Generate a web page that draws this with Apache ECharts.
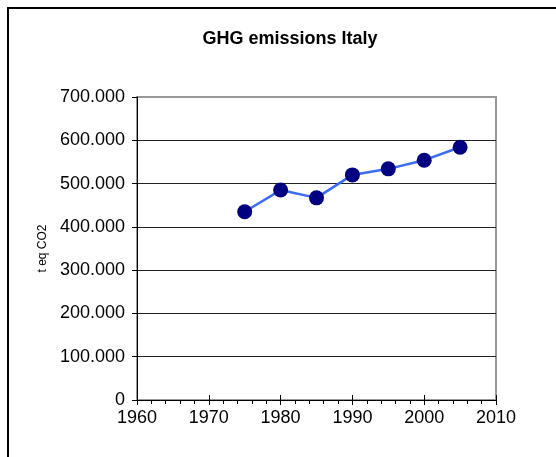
<!DOCTYPE html>
<html>
<head>
<meta charset="utf-8">
<script src="https://cdn.jsdelivr.net/npm/echarts@6/dist/echarts.min.js"></script>
<style>
  html, body { margin: 0; padding: 0; background: #fff; }
  #chart { width: 556px; height: 457px; }
</style>
</head>
<body>
<div id="chart"></div>
<script>
// emissions in t eq CO2
const years = [1975, 1980, 1985, 1990, 1995, 2000, 2005]
const emissions = [435000, 485000, 467000, 520000, 534000, 554000, 584000]

const chart = echarts.init(document.getElementById('chart'))

// Italian style thousands separator: 700000 -> 700.000
function fmt(v) {
  return String(v).replace(/\B(?=(\d{3})+(?!\d))/g, '.')
}

const font = 'Arial, "Liberation Sans", sans-serif'

const option = {
  backgroundColor: '#fff',
  animation: false,
  title: {
    text: 'GHG emissions Italy',
    left: 285,
    textAlign: 'center',
    top: 25,
    textStyle: { fontFamily: font, fontSize: 18, fontWeight: 'bold', color: '#000' }
  },
  graphic: [
    {
      // chart frame, only left and top edges are in view
      type: 'polyline',
      shape: { points: [[8, 460], [8, 8], [560, 8]] },
      style: { stroke: '#000', lineWidth: 2, fill: null },
      silent: true
    }
  ],
  grid: {
    left: 137,
    right: 60,
    top: 97,
    bottom: 57,
    show: true,
    borderColor: '#999',
    borderWidth: 2,
    backgroundColor: 'transparent'
  },
  xAxis: [
    {
      type: 'value',
      min: 1960,
      max: 2010,
      interval: 10,
      axisLine: { onZero: false, lineStyle: { color: '#000', width: 1 } },
      axisTick: { show: true, length: 5, lineStyle: { color: '#000' } },
      minorTick: { show: true, splitNumber: 5, length: 4, lineStyle: { color: '#000' } },
      axisLabel: { color: '#000', fontFamily: font, fontSize: 18, margin: 9, formatter: v => String(v) },
      splitLine: { show: false }
    },
    {
      // upper half of the major ticks
      type: 'value',
      position: 'bottom',
      min: 1960,
      max: 2010,
      interval: 10,
      axisLine: { show: false },
      axisTick: { show: true, inside: true, length: 5, lineStyle: { color: '#000' } },
      axisLabel: { show: false },
      splitLine: { show: false }
    }
  ],
  yAxis: {
    type: 'value',
    min: 0,
    max: 700000,
    interval: 100000,
    name: 't eq CO2',
    nameLocation: 'middle',
    nameGap: 88,
    nameRotate: 90,
    nameTextStyle: { color: '#000', fontFamily: font, fontSize: 12 },
    axisLine: { show: true, lineStyle: { color: '#000', width: 1 } },
    axisTick: { show: true, length: 5, lineStyle: { color: '#000' } },
    axisLabel: { color: '#000', fontFamily: font, fontSize: 18, margin: 12, formatter: fmt },
    splitLine: { show: true, showMaxLine: false, lineStyle: { color: '#222', width: 1 } }
  },
  series: [
    {
      name: 'GHG emissions',
      type: 'line',
      data: years.map((y, i) => [y, emissions[i]]),
      symbol: 'circle',
      symbolSize: 15,
      lineStyle: { color: '#3a6cf5', width: 2.5 },
      itemStyle: { color: '#000080' }
    }
  ]
}

chart.setOption(option)
</script>
</body>
</html>
